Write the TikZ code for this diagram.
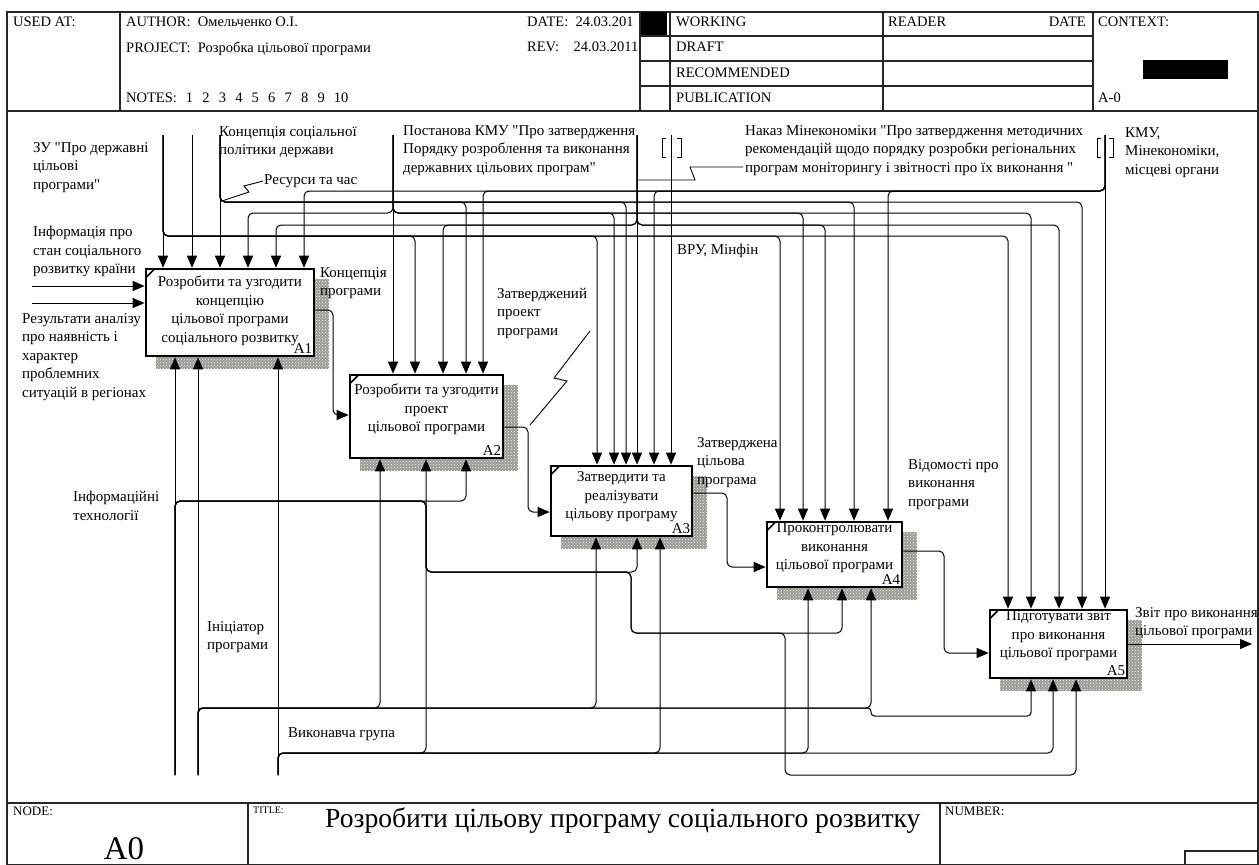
\documentclass[tikz,border=0pt]{standalone}
\usepackage{fontspec}
\setmainfont{Liberation Serif}[Ligatures=TeXOff]
\usetikzlibrary{arrows.meta,patterns,backgrounds,calc}
\newcommand\lblfont{\fontsize{15}{18.5}\selectfont}
\newcommand\hdrfont{\fontsize{14.5}{16}\selectfont}
\newcommand\ctlbus[4]{\draw[arr] (#1) -- (#1 |- 0,#2) -- (#3,#2) -- (#3,0 |- #4.north);}
\newcommand\mechbus[4]{\draw[arr] (#1) -- (#1 |- 0,#2) -- (#3,#2) -- (#3,0 |- #4.south);}
\newcommand\nsp{\hspace{9.2pt}}
\begin{document}
\begin{tikzpicture}[x=1pt,y=-1pt,
  frm/.style={line width=1.3pt, draw=black!85},
  ln/.style={line width=1pt, rounded corners=5pt},
  arr/.style={ln, -{Triangle[length=12pt,width=10pt]}},
  fbox/.style={draw, line width=2.6pt, fill=white, inner sep=0pt},
  shd/.style={preaction={fill=black!40}, pattern=crosshatch dots, pattern color=yellow!12!white},
  lbl/.style={anchor=north west, inner sep=0pt, align=left, font=\lblfont},
  btxt/.style={anchor=north, inner sep=0pt, align=center, font=\lblfont},
  hdr/.style={anchor=north west, inner sep=0pt, font=\hdrfont},
  num/.style={anchor=base east, inner sep=0pt, font=\lblfont},
  brk/.style={line width=0.9pt},
]
\useasboundingbox (0,0) rectangle (1259,865);
\begin{scope}[on background layer]
\fill[white] (0,0) rectangle (1259,865);
\end{scope}

% ---------- frame and header ----------
\draw[frm] (7,12) rectangle (1258,865);
\draw[frm] (7,111) -- (1258,111);
\foreach \xx in {120,640,670,883,1093} \draw[frm] (\xx,12) -- (\xx,111);
\foreach \yy in {36,61,86} \draw[frm] (640,\yy) -- (1093,\yy);

\node[hdr] (usedat) at (13,16.5) {USED AT:};
\node[hdr] (author) at (126,16.5) {AUTHOR:\ \ Омельченко О.І.};
\node[hdr] (project) at (126,41.5) {PROJECT:\ \ Розробка цільової програми};
\node[hdr] (notes) at (126,92.5) {NOTES:\hspace{9pt}1\nsp2\nsp3\nsp4\nsp5\nsp6\nsp7\nsp8\nsp9\nsp10};
\node[hdr] (date) at (527,16.5) {DATE:\ \ 24.03.201};
\node[hdr] (rev) at (527,41.5) {REV:\ \ \ \ 24.03.2011};
\fill (641,12) rectangle (667,35);
\fill (1143,60) rectangle (1228,79);
\node[hdr] (working) at (676,16.5) {WORKING};
\node[hdr] (draft) at (676,41.5) {DRAFT};
\node[hdr] (recom) at (676,67.5) {RECOMMENDED};
\node[hdr] (publ) at (676,92.5) {PUBLICATION};
\node[hdr] (reader) at (888,16.5) {READER};
\node[hdr, anchor=north east] (rdate) at (1086,16.5) {DATE};
\node[hdr] (context) at (1098,16.5) {CONTEXT:};
\node[hdr] (ctxnum) at (1098,92.5) {A-0};

% ---------- footer ----------
\draw[frm] (7,803) -- (1258,803);
\draw[frm] (248,803) -- (248,865);
\draw[frm] (940,803) -- (940,865);
\draw[frm] (1185,851) rectangle (1258,865);
\node[anchor=north west, inner sep=0pt, font=\fontsize{13}{15}\selectfont] (nodelbl) at (13,807) {NODE:};
\node[anchor=north west, inner sep=0pt, font=\fontsize{10}{12}\selectfont] (titlelbl) at (253,807) {TITLE:};
\node[anchor=north west, inner sep=0pt, font=\fontsize{13}{15}\selectfont] (numlbl) at (945,807) {NUMBER:};
\node[anchor=base, inner sep=0pt, font=\fontsize{33}{36}\selectfont] (a0) at (124,859) {A0};
\node[anchor=west, inner sep=0pt, font=\fontsize{27.6}{30}\selectfont] (title) at (325,821) {Розробити цільову програму соціального розвитку};

% ---------- activity boxes ----------
\node[fbox, minimum width=168pt, minimum height=87pt] (A1) at (230,312.5) {};
\node[fbox, minimum width=153pt, minimum height=83pt] (A2) at (426.5,416.5) {};
\node[fbox, minimum width=141pt, minimum height=70pt] (A3) at (621.5,501) {};
\node[fbox, minimum width=135pt, minimum height=65pt] (A4) at (834.5,554.5) {};
\node[fbox, minimum width=137pt, minimum height=68pt] (A5) at (1058.5,644) {};
\begin{scope}[on background layer]
\foreach \b in {A1,A2,A3,A4,A5}
  \path[shd] ($(\b.north west)+(11,11)$) rectangle ($(\b.south east)+(14,12)$);
\end{scope}
\foreach \b in {A1,A2,A3,A4,A5}
  \draw[line width=1.6pt] ($(\b.north west)+(1,10)$) -- ($(\b.north west)+(10,1)$);

\node[btxt] (t1) at ($(A1.north)+(0,8)$) {Розробити та узгодити\\концепцію\\цільової програми\\соціального розвитку};
\node[btxt] (t2) at ($(A2.north)+(0,10)$) {Розробити та узгодити\\проект\\цільової програми};
\node[btxt] (t3) at ($(A3.north)+(0,7)$) {Затвердити та\\реалізувати\\цільову програму};
\node[btxt] (t4) at ($(A4.north)+(0,2)$) {Проконтролювати\\виконання\\цільової програми};
\node[btxt] (t5) at ($(A5.north)+(0,2)$) {Підготувати звіт\\про виконання\\цільової програми};
\node[num] (n1) at ($(A1.south east)+(-3,-4)$) {A1};
\node[num] (n2) at ($(A2.south east)+(-3,-4)$) {A2};
\node[num] (n3) at ($(A3.south east)+(-3,-4)$) {A3};
\node[num] (n4) at ($(A4.south east)+(-3,-4)$) {A4};
\node[num] (n5) at ($(A5.south east)+(-3,-4)$) {A5};

% ---------- arrow ends ----------
\coordinate (sZU) at (163,135);
\coordinate (sB) at (192,135);
\coordinate (sKS) at (220,135);
\coordinate (sPost) at (393,135);
\coordinate (sNak) at (637,135);
\coordinate (sVRU) at (671,135);
\coordinate (sKMU) at (1105,135);
\coordinate (mIT) at (175,775);
\coordinate (mIn) at (198,775);
\coordinate (mVG) at (278,775);
\coordinate (i1) at (32,286);
\coordinate (i2) at (32,303);
\coordinate (o5) at (1252,644);

% ---------- controls ----------
\draw[arr] (sZU) -- (sZU |- A1.north);
\ctlbus{sZU}{236}{415}{A2}
\ctlbus{sZU}{236}{597}{A3}
\ctlbus{sZU}{236}{780}{A4}
\ctlbus{sZU}{236}{1008}{A5}
\draw[arr] (sB) -- (sB |- A1.north);
\draw[arr] (sKS) -- (sKS |- A1.north);
\ctlbus{sKS}{202}{466}{A2}
\ctlbus{sKS}{202}{626}{A3}
\ctlbus{sKS}{202}{854}{A4}
\ctlbus{sKS}{202}{1082}{A5}
\draw[arr] (sPost) -- (sPost |- A2.north);
\ctlbus{sPost}{213}{248}{A1}
\ctlbus{sPost}{213}{614}{A3}
\ctlbus{sPost}{213}{803}{A4}
\ctlbus{sPost}{213}{1031}{A5}
\draw[arr] (sNak) -- (sNak |- A3.north);
\ctlbus{sNak}{225}{276}{A1}
\ctlbus{sNak}{225}{443}{A2}
\ctlbus{sNak}{225}{825}{A4}
\ctlbus{sNak}{225}{1059}{A5}
\draw[arr] (sVRU) -- (sVRU |- A3.north);
\draw[arr] (sKMU) -- (sKMU |- A5.north);
\ctlbus{sKMU}{191}{304}{A1}
\ctlbus{sKMU}{191}{483}{A2}
\ctlbus{sKMU}{191}{654}{A3}
\ctlbus{sKMU}{191}{888}{A4}

% tunnel brackets
\draw[brk] (666,138) -- (662,138) -- (662,157) -- (666,157);
\draw[brk] (677,138) -- (681,138) -- (681,157) -- (677,157);
\draw[brk] (1101,138) -- (1097,138) -- (1097,157) -- (1101,157);
\draw[brk] (1109,138) -- (1113,138) -- (1113,157) -- (1109,157);

% ---------- inputs / outputs ----------
\draw[arr] (i1) -- (i1 -| A1.west);
\draw[arr] (i2) -- (i2 -| A1.west);
\draw[arr] (A1.east |- 0,310) -- (333,310) -- (333,415) -- (A2.west |- 0,415);
\draw[arr] (A2.east |- 0,427) -- (528,427) -- (528,512) -- (A3.west |- 0,512);
\draw[arr] (A3.east |- 0,493) -- (727,493) -- (727,567) -- (A4.west |- 0,567);
\draw[arr] (A4.east |- 0,551) -- (944,551) -- (944,653) -- (A5.west |- 0,653);
\draw[arr] (A5.east |- 0,644) -- (o5);

% ---------- mechanisms ----------
\draw[arr] (mIT) -- (mIT |- A1.south);
\mechbus{mIT}{501}{466}{A2}
\draw[arr] (mIT) -- (175,501) -- (426,501) -- (426,572) -- (637,572) -- (637,0 |- A3.south);
\draw[arr] (mIT) -- (175,501) -- (426,501) -- (426,572) -- (631,572) -- (631,633) -- (842,633) -- (842,0 |- A4.south);
\draw[arr] (mIT) -- (175,501) -- (426,501) -- (426,572) -- (631,572) -- (631,633) -- (785,633) -- (785,775) -- (1076,775) -- (1076,0 |- A5.south);
\draw[arr] (mIn) -- (mIn |- A1.south);
\mechbus{mIn}{708}{380}{A2}
\mechbus{mIn}{708}{596}{A3}
\mechbus{mIn}{708}{871}{A4}
\draw[arr, rounded corners=3.5pt] (mIn) -- (198,708) -- (871,708) -- (871,716) -- (1031,716) -- (1031,0 |- A5.south);
\draw[arr] (mVG) -- (mVG |- A1.south);
\mechbus{mVG}{753}{426}{A2}
\mechbus{mVG}{753}{660}{A3}
\mechbus{mVG}{753}{808}{A4}
\mechbus{mVG}{753}{1053}{A5}

% ---------- label squiggles ----------
\draw[line width=0.9pt] (222,201) -- (249,192) -- (244,186) -- (263,181);
\draw[line width=0.9pt] (637,180) -- (695,180) -- (690,167) -- (743,167);
\draw[line width=0.9pt] (530,425) -- (567,381) -- (554,378) -- (590,331);

% ---------- arrow labels ----------
\node[lbl] (lZU) at (33,142) {ЗУ "Про державні\\цільові\\програми"};
\node[lbl] (lKS) at (219,126) {Концепція соціальної\\політики держави};
\node[lbl] (lRes) at (264,174) {Ресурси та час};
\node[lbl] (lPost) at (403,125) {Постанова КМУ "Про затвердження\\Порядку розроблення та виконання\\державних цільових програм"};
\node[lbl] (lNak) at (745,125) {Наказ Мінекономіки "Про затвердження методичних\\рекомендацій щодо порядку розробки регіональних\\програм моніторингу і звітності про їх виконання "};
\node[lbl] (lKMU) at (1125,127) {КМУ,\\Мінекономіки,\\місцеві органи};
\node[lbl] (lInf) at (33,226) {Інформація про\\стан соціального\\розвитку країни};
\node[lbl] (lRez) at (22,313) {Результати аналізу\\про наявність і\\характер\\проблемних\\ситуацій в регіонах};
\node[lbl] (lKP) at (320,267) {Концепція\\програми};
\node[lbl] (lZP) at (497,288) {Затверджений\\проект\\програми};
\node[lbl] (lVRU) at (677,244) {ВРУ, Мінфін};
\node[lbl] (lZCP) at (697,437) {Затверджена\\цільова\\програма};
\node[lbl] (lVid) at (908,459) {Відомості про\\виконання\\програми};
\node[lbl] (lIT) at (73,491) {Інформаційні\\технології};
\node[lbl] (lIn) at (207,621) {Ініціатор\\програми};
\node[lbl] (lVG) at (288,727) {Виконавча група};
\node[lbl] (lZvit) at (1135,607) {Звіт про виконання\\цільової програми};
\end{tikzpicture}
\end{document}
